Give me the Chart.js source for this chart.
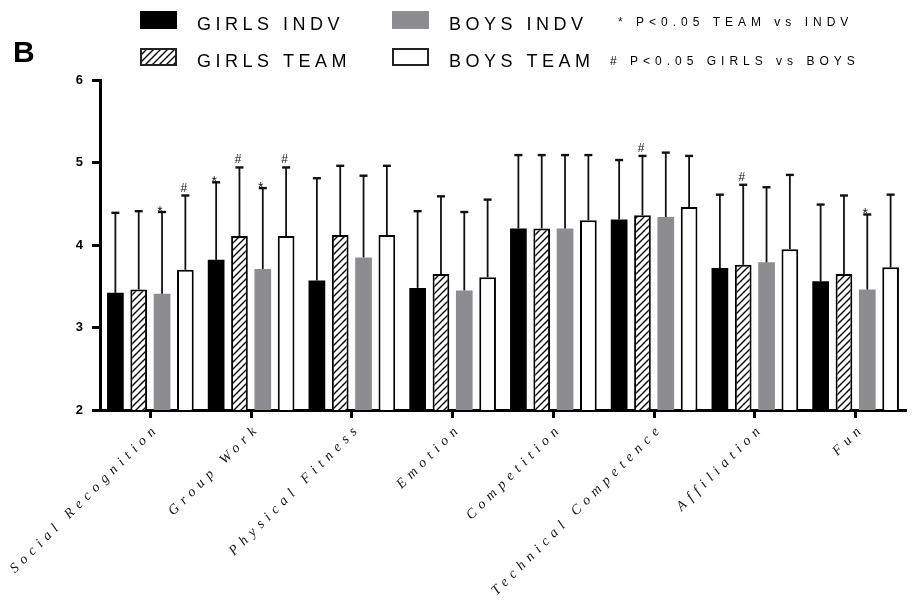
<!DOCTYPE html>
<html>
<head>
<meta charset="utf-8">
<script src="https://cdn.jsdelivr.net/npm/chart.js@4.4.0/dist/chart.umd.min.js"></script>
<style>
    html, body { margin: 0; padding: 0; background: #fff; }
    #motives { display: block; }
</style>
</head>
<body>
<canvas id="motives" width="915" height="606"></canvas>
<script>
const categories = ["Social Recognition", "Group Work", "Physical Fitness", "Emotion", "Competition", "Technical Competence", "Affiliation", "Fun"];
const yTicks = [2, 3, 4, 5, 6];

const girlsIndv = [3.42, 3.82, 3.57, 3.48, 4.20, 4.31, 3.72, 3.56];
const girlsIndvSd = [0.97, 0.94, 1.24, 0.93, 0.89, 0.72, 0.89, 0.93];
const girlsIndvSig = ["", "*", "", "", "", "", "", ""];

const girlsTeam = [3.46, 4.11, 4.12, 3.65, 4.20, 4.36, 3.76, 3.65];
const girlsTeamSd = [0.95, 0.83, 0.84, 0.94, 0.89, 0.72, 0.97, 0.95];
const girlsTeamSig = ["", "#", "", "", "", "#", "#", ""];

const boysIndv = [3.41, 3.71, 3.85, 3.45, 4.20, 4.34, 3.79, 3.46];
const boysIndvSd = [0.99, 0.98, 0.99, 0.95, 0.89, 0.78, 0.91, 0.91];
const boysIndvSig = ["*", "*", "", "", "", "", "", "*"];

const boysTeam = [3.70, 4.11, 4.12, 3.61, 4.30, 4.46, 3.95, 3.73];
const boysTeamSd = [0.90, 0.83, 0.84, 0.94, 0.79, 0.62, 0.90, 0.88];
const boysTeamSig = ["#", "#", "", "", "", "", "", ""];

const notes = ["* P<0.05 TEAM vs INDV", "# P<0.05 GIRLS vs BOYS"];
const panel = "B";

const SANS = '"Liberation Sans", Arial, sans-serif';
const GREY = "#8d8d91";

// diagonal hatch for the girls team bars
function hatch() {
    const c = document.createElement("canvas");
    c.width = 7; c.height = 7;
    const g = c.getContext("2d");
    g.fillStyle = "#fff";
    g.fillRect(0, 0, 7, 7);
    g.strokeStyle = "#000";
    g.lineWidth = 1.4;
    g.beginPath();
    g.moveTo(-1, 8); g.lineTo(8, -1);
    g.moveTo(-1, 1); g.lineTo(1, -1);
    g.moveTo(6, 8); g.lineTo(8, 6);
    g.stroke();
    return g.createPattern(c, "repeat");
}

// SD whiskers (upper only) plus the significance marks above them
const errorBars = {
    id: "errorBars",
    afterDatasetsDraw(chart) {
        const ctx = chart.ctx;
        const y = chart.scales.y;
        chart.data.datasets.forEach((ds, i) => {
            chart.getDatasetMeta(i).data.forEach((bar, j) => {
                const top = y.getPixelForValue(ds.data[j] + ds.sd[j]);
                ctx.save();
                ctx.strokeStyle = "#111";
                ctx.lineWidth = 1.8;
                ctx.beginPath();
                ctx.moveTo(bar.x, bar.y);
                ctx.lineTo(bar.x, top);
                ctx.stroke();
                ctx.lineWidth = 2.4;
                ctx.beginPath();
                ctx.moveTo(bar.x - 4, top);
                ctx.lineTo(bar.x + 4, top);
                ctx.stroke();
                const mark = ds.sig[j];
                if (mark) {
                    ctx.fillStyle = "#111";
                    ctx.textAlign = "center";
                    ctx.textBaseline = "alphabetic";
                    if (mark === "*") {
                        ctx.font = "14px " + SANS;
                        ctx.fillText(mark, bar.x - 2, top + 4);
                    } else {
                        ctx.font = "12px " + SANS;
                        ctx.fillText(mark, bar.x - 1.5, top - 4);
                    }
                }
                ctx.restore();
            });
        });
    }
};

// spread out the letters of the category labels
const spacedTicks = {
    id: "spacedTicks",
    beforeDraw(chart) {
        const sc = chart.scales.x;
        if (sc._spaced) return;
        const drawLabels = sc.drawLabels;
        sc.drawLabels = function (area) {
            this.ctx.save();
            this.ctx.letterSpacing = "5.5px";
            drawLabels.call(this, area);
            this.ctx.restore();
        };
        sc._spaced = true;
    }
};

// two-row key, notes and panel letter
const keyBlock = {
    id: "keyBlock",
    afterDraw(chart) {
        const ctx = chart.ctx;
        const slots = [[140, 11], [140, 48], [392, 11], [392, 48]];
        chart.data.datasets.forEach((ds, i) => {
            const [x, y] = slots[i];
            ctx.save();
            ctx.fillStyle = ds.backgroundColor;
            ctx.fillRect(x, y, 37, 18);
            if (ds.borderWidth) {
                ctx.strokeStyle = "#222";
                ctx.lineWidth = 2;
                ctx.strokeRect(x + 1, y + 1, 35, 16);
            }
            ctx.fillStyle = "#000";
            ctx.font = "18px " + SANS;
            ctx.letterSpacing = "4.5px";
            ctx.fillText(ds.label, x + 57, y + 18.5);
            ctx.restore();
        });

        ctx.save();
        ctx.fillStyle = "#000";
        ctx.font = "12px " + SANS;
        ctx.letterSpacing = "5px";
        ctx.fillText(notes[0], 618, 26);
        ctx.fillText(notes[1], 610, 65);
        ctx.letterSpacing = "0px";
        ctx.font = "bold 30px " + SANS;
        ctx.fillText(panel, 13, 62);
        ctx.restore();
    }
};

new Chart(document.getElementById("motives"), {
    type: "bar",
    data: {
        labels: categories,
        datasets: [
            { label: "GIRLS INDV", data: girlsIndv, sd: girlsIndvSd, sig: girlsIndvSig,
              backgroundColor: "#000", borderColor: "#000", borderWidth: 0 },
            { label: "GIRLS TEAM", data: girlsTeam, sd: girlsTeamSd, sig: girlsTeamSig,
              backgroundColor: hatch(), borderColor: "#000", borderWidth: 2 },
            { label: "BOYS INDV", data: boysIndv, sd: boysIndvSd, sig: boysIndvSig,
              backgroundColor: GREY, borderColor: GREY, borderWidth: 0 },
            { label: "BOYS TEAM", data: boysTeam, sd: boysTeamSd, sig: boysTeamSig,
              backgroundColor: "#fff", borderColor: "#000", borderWidth: 2 },
        ],
    },
    options: {
        responsive: false,
        animation: false,
        categoryPercentage: 0.926,
        barPercentage: 0.716,
        layout: { padding: { top: 80, right: 9, left: 0, bottom: 0 } },
        plugins: {
            legend: { display: false },
            tooltip: { enabled: false },
        },
        scales: {
            x: {
                grid: { drawOnChartArea: false, offset: false, tickLength: 8, tickWidth: 3, color: "#000" },
                border: { color: "#000", width: 3 },
                ticks: {
                    autoSkip: false,
                    minRotation: 45,
                    maxRotation: 45,
                    padding: 2,
                    labelOffset: 7,
                    color: "#111",
                    font: { family: '"Liberation Serif", "Times New Roman", serif', style: "italic", size: 14 },
                },
                afterFit: function (scale) { scale.height = 196; },
            },
            y: {
                min: yTicks[0],
                max: yTicks[yTicks.length - 1],
                afterBuildTicks: function (scale) { scale.ticks = yTicks.map(v => ({ value: v })); },
                grid: { drawOnChartArea: false, tickLength: 8, tickWidth: 3, color: "#000" },
                border: { color: "#000", width: 3 },
                ticks: {
                    padding: 9,
                    color: "#000",
                    font: { family: SANS, weight: "bold", size: 13 },
                },
                afterFit: function (scale) { scale.width = 100; },
            },
        },
    },
    plugins: [spacedTicks, errorBars, keyBlock],
});
</script>
</body>
</html>
